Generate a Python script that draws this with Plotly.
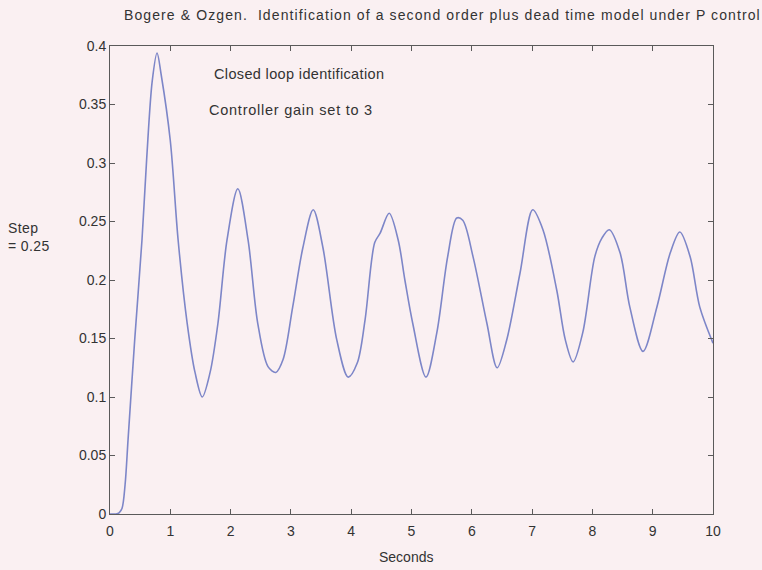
import plotly.graph_objects as go

# Closed-loop step response (seconds vs. output)
time_s = [0, 0.1, 0.15, 0.2, 0.25, 0.3, 0.41, 0.53, 0.61, 0.70, 0.78, 0.85,
          1.0, 1.13, 1.28, 1.41, 1.53, 1.66, 1.79, 1.94, 2.12, 2.29, 2.45,
          2.62, 2.75, 2.87, 3.03, 3.2, 3.37, 3.53, 3.76, 3.95, 4.1, 4.23,
          4.39, 4.48, 4.63, 4.78, 4.89, 5.02, 5.24, 5.42, 5.6, 5.75, 5.85,
          6.02, 6.25, 6.42, 6.58, 6.8, 7.01, 7.18, 7.41, 7.55, 7.68, 7.84,
          8.04, 8.16, 8.28, 8.46, 8.62, 8.84, 9.07, 9.29, 9.45, 9.62, 9.78,
          10.0]
response = [0.0, 0.0, 0.001, 0.005, 0.025, 0.064, 0.149, 0.234, 0.305, 0.37,
            0.394, 0.375, 0.319, 0.234, 0.163, 0.121, 0.100, 0.121, 0.163,
            0.234, 0.278, 0.234, 0.163, 0.126, 0.121, 0.132, 0.177, 0.228,
            0.26, 0.228, 0.149, 0.117, 0.129, 0.166, 0.232, 0.24, 0.257,
            0.234, 0.2, 0.163, 0.117, 0.155, 0.22, 0.253, 0.251, 0.22, 0.163,
            0.125, 0.149, 0.206, 0.26, 0.243, 0.191, 0.149, 0.130, 0.155,
            0.22, 0.236, 0.243, 0.223, 0.177, 0.139, 0.177, 0.223, 0.241,
            0.22, 0.177, 0.146]

x_ticks = [0, 1, 2, 3, 4, 5, 6, 7, 8, 9, 10]
y_ticks = [0, 0.05, 0.1, 0.15, 0.2, 0.25, 0.3, 0.35, 0.4]
y_tick_text = ["0", "0.05", "0.1", "0.15", "0.2", "0.25", "0.3", "0.35", "0.4"]

title_text = "Bogere & Ozgen.  Identification of a second order plus dead time model under P control"
note_1 = "Closed loop identification"
note_2 = "Controller gain set to 3"
step_text = "Step<br>= 0.25"
x_title = "Seconds"

W, H = 762, 570
L, R, T, B = 110, 713, 45.5, 514
FONT = "Liberation Sans, Arial, sans-serif"
TXT = "#333333"
BG = "#faf0f2"


def px(x):
    return (x - L) / (R - L)


def py(y):
    return (B - y) / (B - T)


def spaced(text, spacing):
    return f'<span style="letter-spacing:{spacing}px">{text}</span>'


fig = go.Figure()
fig.add_trace(go.Scatter(
    x=time_s, y=response, mode="lines",
    line=dict(color="#7d86c8", width=1.6, shape="spline", smoothing=0.9),
    hoverinfo="skip", showlegend=False,
))

axis_common = dict(
    showgrid=False, zeroline=False, showline=True, linecolor="#5a5a5a",
    linewidth=1, mirror="ticks", ticks="inside", ticklen=5, tickcolor="#5a5a5a",
    tickfont=dict(family=FONT, size=14, color=TXT),
)
fig.update_xaxes(range=[0, 10], tickvals=x_ticks, ticklabelstandoff=4, **axis_common)
fig.update_yaxes(range=[0, 0.4], tickvals=y_ticks, ticktext=y_tick_text, **axis_common)

anns = [
    dict(text=spaced(title_text, 1.1), x=px(122), y=py(14), xanchor="left", size=14),
    dict(text=spaced(note_1, 0.35), x=px(212), y=py(74), xanchor="left", size=14.5),
    dict(text=spaced(note_2, 0.75), x=px(207), y=py(110), xanchor="left", size=14.5),
    dict(text=spaced(step_text, 0.4), x=px(6), y=py(237), xanchor="left", size=14),
    dict(text=x_title, x=px(406), y=py(557), xanchor="center", size=14),
]
fig.update_layout(
    width=W, height=H,
    margin=dict(l=L, r=W - R, t=T, b=H - B),
    paper_bgcolor=BG, plot_bgcolor=BG,
    annotations=[dict(text=a["text"], x=a["x"], y=a["y"], xref="paper", yref="paper",
                      xanchor=a["xanchor"], yanchor="middle", showarrow=False, align="left",
                      font=dict(family=FONT, size=a["size"], color=TXT))
                 for a in anns],
)

fig.write_html("out.html")
